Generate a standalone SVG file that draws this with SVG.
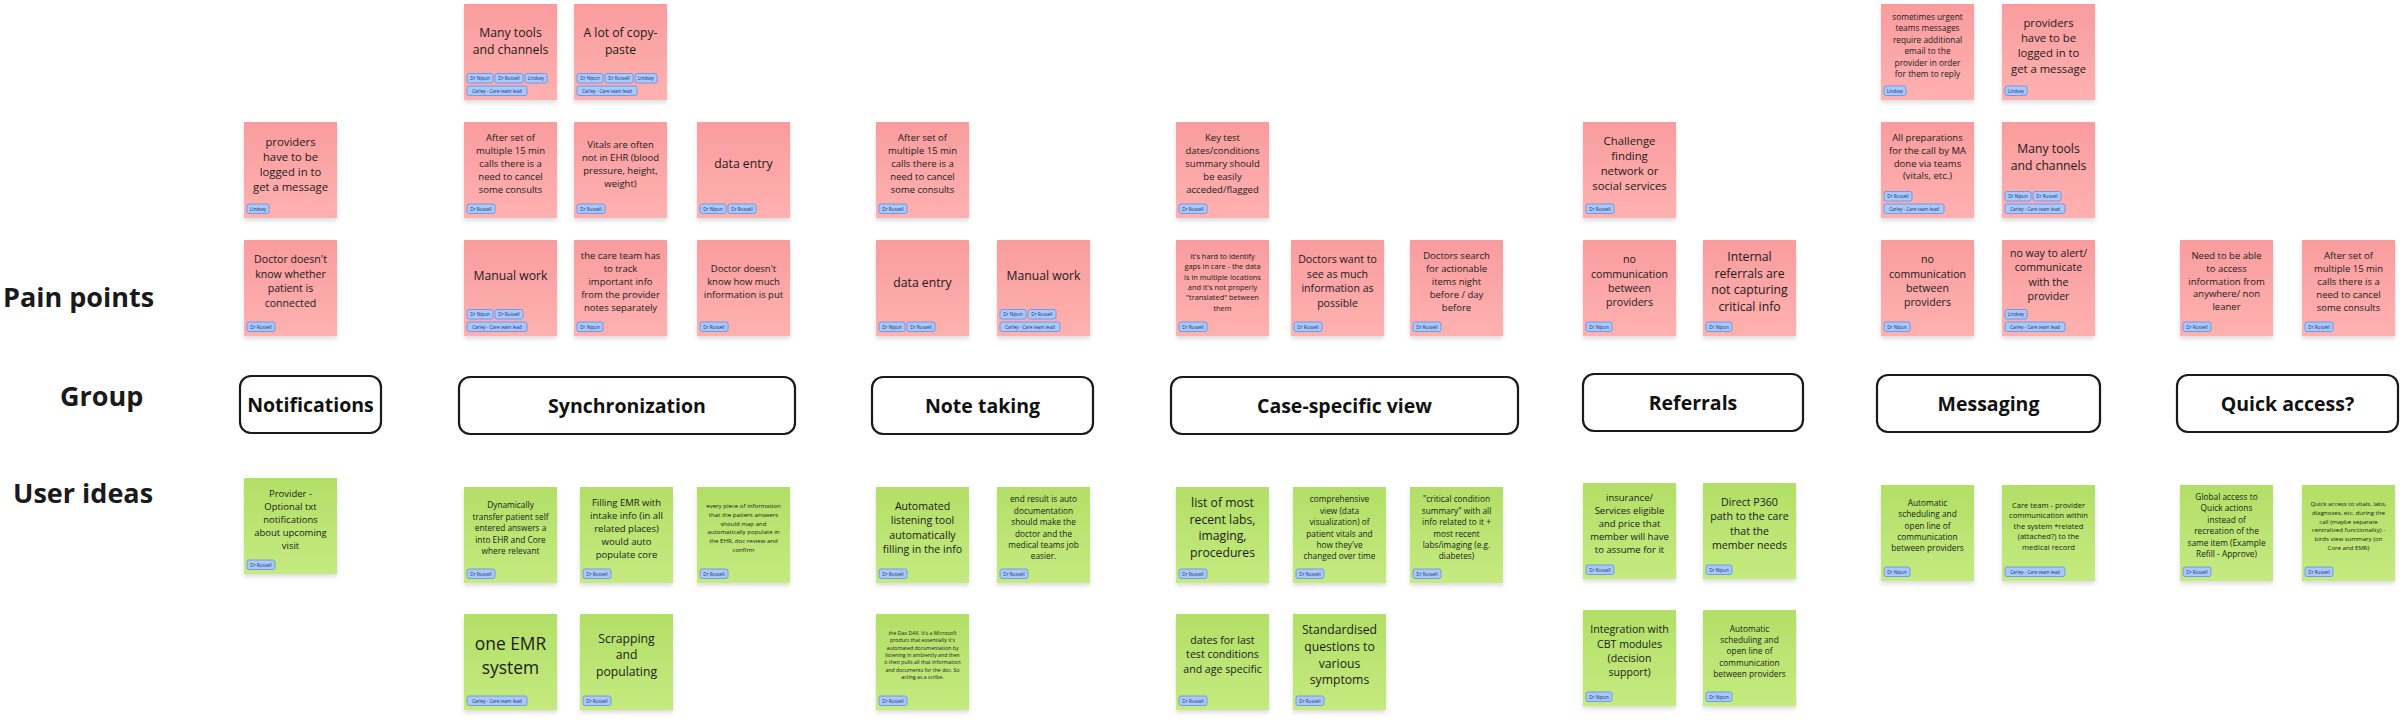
<svg xmlns="http://www.w3.org/2000/svg" xmlns:xlink="http://www.w3.org/1999/xlink" width="2400" height="726" viewBox="0 0 2400 726">
<defs>
<linearGradient id="gp" x1="0" y1="0" x2="0" y2="1"><stop offset="0" stop-color="#f99c9e"/><stop offset="1" stop-color="#feb1b0"/></linearGradient>
<linearGradient id="gg" x1="0" y1="0" x2="0" y2="1"><stop offset="0" stop-color="#b2df66"/><stop offset="1" stop-color="#c5ea80"/></linearGradient>
<filter id="sh" x="-10%" y="-10%" width="120%" height="130%"><feDropShadow dx="0" dy="3" stdDeviation="2" flood-color="#000" flood-opacity="0.13"/></filter>
<style>
.pk{fill:url(#gp);filter:url(#sh);}
.gr{fill:url(#gg);filter:url(#sh);}
.t{font-family:"Open Sans","Liberation Sans",sans-serif;fill:#1a1a1a;text-anchor:middle;}
.tg{fill:#a9c8fb;stroke:#5c8fe9;stroke-width:0.8;}
.tt{font-family:"Open Sans","Liberation Sans",sans-serif;font-size:4.6px;fill:#1f2f70;text-anchor:middle;}
.gb{fill:#fff;stroke:#1a1a1a;stroke-width:2.2;}
.gt{font-family:"Open Sans","Liberation Sans",sans-serif;font-weight:700;font-size:19.5px;fill:#111;text-anchor:middle;}
.lb{font-family:"Open Sans","Liberation Sans",sans-serif;font-weight:700;font-size:27px;fill:#1a1a1a;}
</style>
<g id="tagN"><rect class="tg" width="26" height="9.5" rx="2"/><text class="tt" x="13" y="6.6">Dr Nipun</text></g>
<g id="tagR"><rect class="tg" width="28" height="9.5" rx="2"/><text class="tt" x="14" y="6.6">Dr Russell</text></g>
<g id="tagL"><rect class="tg" width="22" height="9.5" rx="2"/><text class="tt" x="11" y="6.6">Lindsey</text></g>
<g id="tagC"><rect class="tg" width="60" height="9.5" rx="2"/><text class="tt" x="30" y="6.6">Carley - Care team lead</text></g>
</defs>
<rect width="2400" height="726" fill="#fff"/>

<g id="labels">
<text class="lb" x="3" y="307">Pain points</text>
<text class="lb" x="60" y="406">Group</text>
<text class="lb" x="13" y="503">User ideas</text>
</g>

<g id="groups">
<g id="g-notifications"><rect class="gb" x="240" y="376" width="141" height="57" rx="11"/><text class="gt" x="310.5" y="411.5">Notifications</text></g>
<g id="g-sync"><rect class="gb" x="459" y="377" width="336" height="57" rx="11"/><text class="gt" x="627" y="412.5">Synchronization</text></g>
<g id="g-note"><rect class="gb" x="872" y="377" width="221" height="57" rx="11"/><text class="gt" x="982.5" y="412.5">Note taking</text></g>
<g id="g-case"><rect class="gb" x="1171" y="377" width="347" height="57" rx="11"/><text class="gt" x="1344.5" y="412.5">Case-specific view</text></g>
<g id="g-ref"><rect class="gb" x="1583" y="374" width="220" height="57" rx="11"/><text class="gt" x="1693" y="409.5">Referrals</text></g>
<g id="g-msg"><rect class="gb" x="1877" y="375" width="223" height="57" rx="11"/><text class="gt" x="1988.5" y="410.5">Messaging</text></g>
<g id="g-quick"><rect class="gb" x="2177" y="375" width="221" height="57" rx="11"/><text class="gt" x="2287.5" y="410.5">Quick access?</text></g>
</g>

<g id="connectors"/>

<!-- Pain points: top row -->
<g id="p-sync-tools" transform="translate(464,4)"><rect class="pk" width="93" height="96"/>
<text class="t" font-size="12.2"><tspan x="46.5" y="33">Many tools</tspan><tspan x="46.5" y="50">and channels</tspan></text>
<use href="#tagN" x="3" y="69.5"/><use href="#tagR" x="31" y="69.5"/><use href="#tagL" x="61" y="69.5"/><use href="#tagC" x="3" y="82"/></g>
<g id="p-sync-copy" transform="translate(574,4)"><rect class="pk" width="93" height="96"/>
<text class="t" font-size="12.2"><tspan x="46.5" y="33">A lot of copy-</tspan><tspan x="46.5" y="50">paste</tspan></text>
<use href="#tagN" x="3" y="69.5"/><use href="#tagR" x="31" y="69.5"/><use href="#tagL" x="61" y="69.5"/><use href="#tagC" x="3" y="82"/></g>
<g id="p-msg-urgent" transform="translate(1881,4)"><rect class="pk" width="93" height="96"/>
<text class="t" font-size="8.3"><tspan x="46.5" y="16">sometimes urgent</tspan><tspan x="46.5" y="27.4">teams messages</tspan><tspan x="46.5" y="38.8">require additional</tspan><tspan x="46.5" y="50.2">email to the</tspan><tspan x="46.5" y="61.6">provider in order</tspan><tspan x="46.5" y="73">for them to reply</tspan></text>
<use href="#tagL" x="3" y="82"/></g>
<g id="p-msg-providers" transform="translate(2002,4)"><rect class="pk" width="93" height="96"/>
<text class="t" font-size="11.3"><tspan x="46.5" y="22.7">providers</tspan><tspan x="46.5" y="38">have to be</tspan><tspan x="46.5" y="53.3">logged in to</tspan><tspan x="46.5" y="68.6">get a message</tspan></text>
<use href="#tagL" x="3" y="82"/></g>

<!-- Pain points: middle row -->
<g id="p-notif-providers" transform="translate(244,122)"><rect class="pk" width="93" height="96"/>
<text class="t" font-size="11.3"><tspan x="46.5" y="23.5">providers</tspan><tspan x="46.5" y="38.8">have to be</tspan><tspan x="46.5" y="54.1">logged in to</tspan><tspan x="46.5" y="69.4">get a message</tspan></text>
<use href="#tagL" x="3" y="82"/></g>
<g id="p-sync-after" transform="translate(464,122)"><rect class="pk" width="93" height="96"/>
<text class="t" font-size="9.5"><tspan x="46.5" y="18.7">After set of</tspan><tspan x="46.5" y="31.7">multiple 15 min</tspan><tspan x="46.5" y="44.7">calls there is a</tspan><tspan x="46.5" y="57.7">need to cancel</tspan><tspan x="46.5" y="70.7">some consults</tspan></text>
<use href="#tagR" x="3" y="82"/></g>
<g id="p-sync-vitals" transform="translate(574,122)"><rect class="pk" width="93" height="96"/>
<text class="t" font-size="9.5"><tspan x="46.5" y="25.7">Vitals are often</tspan><tspan x="46.5" y="38.7">not in EHR (blood</tspan><tspan x="46.5" y="51.7">pressure, height,</tspan><tspan x="46.5" y="64.7">weight)</tspan></text>
<use href="#tagR" x="3" y="82"/></g>
<g id="p-sync-data" transform="translate(697,122)"><rect class="pk" width="93" height="96"/>
<text class="t" font-size="12.2"><tspan x="46.5" y="45.7">data entry</tspan></text>
<use href="#tagN" x="3" y="82"/><use href="#tagR" x="31" y="82"/></g>
<g id="p-note-after" transform="translate(876,122)"><rect class="pk" width="93" height="96"/>
<text class="t" font-size="9.5"><tspan x="46.5" y="18.7">After set of</tspan><tspan x="46.5" y="31.7">multiple 15 min</tspan><tspan x="46.5" y="44.7">calls there is a</tspan><tspan x="46.5" y="57.7">need to cancel</tspan><tspan x="46.5" y="70.7">some consults</tspan></text>
<use href="#tagR" x="3" y="82"/></g>
<g id="p-case-key" transform="translate(1176,122)"><rect class="pk" width="93" height="96"/>
<text class="t" font-size="9.5"><tspan x="46.5" y="18.7">Key test</tspan><tspan x="46.5" y="31.7">dates/conditions</tspan><tspan x="46.5" y="44.7">summary should</tspan><tspan x="46.5" y="57.7">be easily</tspan><tspan x="46.5" y="70.7">acceded/flagged</tspan></text>
<use href="#tagR" x="3" y="82"/></g>
<g id="p-ref-challenge" transform="translate(1583,122)"><rect class="pk" width="93" height="96"/>
<text class="t" font-size="11.3"><tspan x="46.5" y="22.5">Challenge</tspan><tspan x="46.5" y="37.8">finding</tspan><tspan x="46.5" y="53.1">network or</tspan><tspan x="46.5" y="68.4">social services</tspan></text>
<use href="#tagR" x="3" y="82"/></g>
<g id="p-msg-prep" transform="translate(1881,122)"><rect class="pk" width="93" height="96"/>
<text class="t" font-size="9.5"><tspan x="46.5" y="19">All preparations</tspan><tspan x="46.5" y="31.8">for the call by MA</tspan><tspan x="46.5" y="44.6">done via teams</tspan><tspan x="46.5" y="57.4">(vitals, etc.)</tspan></text>
<use href="#tagR" x="3" y="69.5"/><use href="#tagC" x="3" y="82"/></g>
<g id="p-msg-tools" transform="translate(2002,122)"><rect class="pk" width="93" height="96"/>
<text class="t" font-size="12.2"><tspan x="46.5" y="31.3">Many tools</tspan><tspan x="46.5" y="48">and channels</tspan></text>
<use href="#tagN" x="3" y="69.5"/><use href="#tagR" x="31" y="69.5"/><use href="#tagC" x="3" y="82"/></g>

<!-- Pain points: bottom row -->
<g id="p-notif-doctor" transform="translate(244,240)"><rect class="pk" width="93" height="96"/>
<text class="t" font-size="10.6"><tspan x="46.5" y="23">Doctor doesn't</tspan><tspan x="46.5" y="37.5">know whether</tspan><tspan x="46.5" y="52">patient is</tspan><tspan x="46.5" y="66.5">connected</tspan></text>
<use href="#tagR" x="3" y="82"/></g>
<g id="p-sync-manual" transform="translate(464,240)"><rect class="pk" width="93" height="96"/>
<text class="t" font-size="12.2"><tspan x="46.5" y="40">Manual work</tspan></text>
<use href="#tagN" x="3" y="69.5"/><use href="#tagR" x="31" y="69.5"/><use href="#tagC" x="3" y="82"/></g>
<g id="p-sync-care" transform="translate(574,240)"><rect class="pk" width="93" height="96"/>
<text class="t" font-size="9.5"><tspan x="46.5" y="19">the care team has</tspan><tspan x="46.5" y="31.9">to track</tspan><tspan x="46.5" y="44.8">important info</tspan><tspan x="46.5" y="57.7">from the provider</tspan><tspan x="46.5" y="70.6">notes separately</tspan></text>
<use href="#tagN" x="3" y="82"/></g>
<g id="p-sync-doctor" transform="translate(697,240)"><rect class="pk" width="93" height="96"/>
<text class="t" font-size="9.5"><tspan x="46.5" y="31.7">Doctor doesn't</tspan><tspan x="46.5" y="44.6">know how much</tspan><tspan x="46.5" y="57.5">information is put</tspan></text>
<use href="#tagR" x="3" y="82"/></g>
<g id="p-note-data" transform="translate(876,240)"><rect class="pk" width="93" height="96"/>
<text class="t" font-size="12.2"><tspan x="46.5" y="46.7">data entry</tspan></text>
<use href="#tagN" x="3" y="82"/><use href="#tagR" x="31" y="82"/></g>
<g id="p-note-manual" transform="translate(997,240)"><rect class="pk" width="93" height="96"/>
<text class="t" font-size="12.2"><tspan x="46.5" y="40">Manual work</tspan></text>
<use href="#tagN" x="3" y="69.5"/><use href="#tagR" x="31" y="69.5"/><use href="#tagC" x="3" y="82"/></g>
<g id="p-case-hard" transform="translate(1176,240)"><rect class="pk" width="93" height="96"/>
<text class="t" font-size="7.4"><tspan x="46.5" y="19">it's hard to identify</tspan><tspan x="46.5" y="29.3">gaps in care - the data</tspan><tspan x="46.5" y="39.6">is in multiple locations</tspan><tspan x="46.5" y="49.9">and it's not properly</tspan><tspan x="46.5" y="60.2">"translated" between</tspan><tspan x="46.5" y="70.5">them</tspan></text>
<use href="#tagR" x="3" y="82"/></g>
<g id="p-case-want" transform="translate(1291,240)"><rect class="pk" width="93" height="96"/>
<text class="t" font-size="10.6"><tspan x="46.5" y="23.3">Doctors want to</tspan><tspan x="46.5" y="37.8">see as much</tspan><tspan x="46.5" y="52.3">information as</tspan><tspan x="46.5" y="66.8">possible</tspan></text>
<use href="#tagR" x="3" y="82"/></g>
<g id="p-case-search" transform="translate(1410,240)"><rect class="pk" width="93" height="96"/>
<text class="t" font-size="9.5"><tspan x="46.5" y="19.3">Doctors search</tspan><tspan x="46.5" y="32.2">for actionable</tspan><tspan x="46.5" y="45.1">items night</tspan><tspan x="46.5" y="58">before / day</tspan><tspan x="46.5" y="70.9">before</tspan></text>
<use href="#tagR" x="3" y="82"/></g>
<g id="p-ref-nocomm" transform="translate(1583,240)"><rect class="pk" width="93" height="96"/>
<text class="t" font-size="10.6"><tspan x="46.5" y="23.3">no</tspan><tspan x="46.5" y="37.6">communication</tspan><tspan x="46.5" y="51.9">between</tspan><tspan x="46.5" y="66.2">providers</tspan></text>
<use href="#tagN" x="3" y="82"/></g>
<g id="p-ref-internal" transform="translate(1703,240)"><rect class="pk" width="93" height="96"/>
<text class="t" font-size="12.2"><tspan x="46.5" y="20.7">Internal</tspan><tspan x="46.5" y="37.5">referrals are</tspan><tspan x="46.5" y="54.3">not capturing</tspan><tspan x="46.5" y="71.1">critical info</tspan></text>
<use href="#tagN" x="3" y="82"/></g>
<g id="p-msg-nocomm" transform="translate(1881,240)"><rect class="pk" width="93" height="96"/>
<text class="t" font-size="10.6"><tspan x="46.5" y="23.3">no</tspan><tspan x="46.5" y="37.6">communication</tspan><tspan x="46.5" y="51.9">between</tspan><tspan x="46.5" y="66.2">providers</tspan></text>
<use href="#tagN" x="3" y="82"/></g>
<g id="p-msg-noway" transform="translate(2002,240)"><rect class="pk" width="93" height="96"/>
<text class="t" font-size="10.6"><tspan x="46.5" y="16.7">no way to alert/</tspan><tspan x="46.5" y="31.1">communicate</tspan><tspan x="46.5" y="45.5">with the</tspan><tspan x="46.5" y="59.9">provider</tspan></text>
<use href="#tagL" x="3" y="69.5"/><use href="#tagC" x="3" y="82"/></g>
<g id="p-quick-need" transform="translate(2180,240)"><rect class="pk" width="93" height="96"/>
<text class="t" font-size="9.5"><tspan x="46.5" y="19">Need to be able</tspan><tspan x="46.5" y="31.8">to access</tspan><tspan x="46.5" y="44.6">information from</tspan><tspan x="46.5" y="57.4">anywhere/ non</tspan><tspan x="46.5" y="70.2">leaner</tspan></text>
<use href="#tagR" x="3" y="82"/></g>
<g id="p-quick-after" transform="translate(2302,240)"><rect class="pk" width="93" height="96"/>
<text class="t" font-size="9.5"><tspan x="46.5" y="19">After set of</tspan><tspan x="46.5" y="31.9">multiple 15 min</tspan><tspan x="46.5" y="44.8">calls there is a</tspan><tspan x="46.5" y="57.7">need to cancel</tspan><tspan x="46.5" y="70.6">some consults</tspan></text>
<use href="#tagR" x="3" y="82"/></g>

<!-- User ideas -->
<g id="i-notif-provider" transform="translate(244,478)"><rect class="gr" width="93" height="96"/>
<text class="t" font-size="9.5"><tspan x="46.5" y="19.3">Provider -</tspan><tspan x="46.5" y="32.3">Optional txt</tspan><tspan x="46.5" y="45.3">notifications</tspan><tspan x="46.5" y="58.3">about upcoming</tspan><tspan x="46.5" y="71.3">visit</tspan></text>
<use href="#tagR" x="3" y="82"/></g>
<g id="i-sync-dyn" transform="translate(464,487)"><rect class="gr" width="93" height="96"/>
<text class="t" font-size="8.3"><tspan x="46.5" y="21.3">Dynamically</tspan><tspan x="46.5" y="32.7">transfer patient self</tspan><tspan x="46.5" y="44.1">entered  answers a</tspan><tspan x="46.5" y="55.5">into EHR and Core</tspan><tspan x="46.5" y="66.9">where relevant</tspan></text>
<use href="#tagR" x="3" y="82"/></g>
<g id="i-sync-fill" transform="translate(580,487)"><rect class="gr" width="93" height="96"/>
<text class="t" font-size="9.5"><tspan x="46.5" y="19">Filling EMR with</tspan><tspan x="46.5" y="32">intake info (in all</tspan><tspan x="46.5" y="45">related places)</tspan><tspan x="46.5" y="57.8">would auto</tspan><tspan x="46.5" y="70.6">populate core</tspan></text>
<use href="#tagR" x="3" y="82"/></g>
<g id="i-sync-every" transform="translate(697,487)"><rect class="gr" width="93" height="96"/>
<text class="t" font-size="6.1"><tspan x="46.5" y="21.3">every piece of information</tspan><tspan x="46.5" y="30">that the patient answers</tspan><tspan x="46.5" y="38.7">should map and</tspan><tspan x="46.5" y="47.4">automatically populate in</tspan><tspan x="46.5" y="56.1">the EHR, doc review and</tspan><tspan x="46.5" y="64.8">confirm</tspan></text>
<use href="#tagR" x="3" y="82"/></g>
<g id="i-sync-one" transform="translate(464,614)"><rect class="gr" width="93" height="96"/>
<text class="t" font-size="17.4"><tspan x="46.5" y="36">one EMR</tspan><tspan x="46.5" y="60">system</tspan></text>
<use href="#tagC" x="3" y="82"/></g>
<g id="i-sync-scrap" transform="translate(580,614)"><rect class="gr" width="93" height="96"/>
<text class="t" font-size="12.2"><tspan x="46.5" y="28.7">Scrapping</tspan><tspan x="46.5" y="45.4">and</tspan><tspan x="46.5" y="62.1">populating</tspan></text>
<use href="#tagR" x="3" y="82"/></g>
<g id="i-note-auto" transform="translate(876,487)"><rect class="gr" width="93" height="96"/>
<text class="t" font-size="10.6"><tspan x="46.5" y="23">Automated</tspan><tspan x="46.5" y="37.3">listening tool</tspan><tspan x="46.5" y="51.6">automatically</tspan><tspan x="46.5" y="65.9">filling in the info</tspan></text>
<use href="#tagR" x="3" y="82"/></g>
<g id="i-note-end" transform="translate(997,487)"><rect class="gr" width="93" height="96"/>
<text class="t" font-size="8.3"><tspan x="46.5" y="15.3">end result is auto</tspan><tspan x="46.5" y="26.7">documentation</tspan><tspan x="46.5" y="38.1">should make the</tspan><tspan x="46.5" y="49.5">doctor and the</tspan><tspan x="46.5" y="60.9">medical teams job</tspan><tspan x="46.5" y="72.3">easier.</tspan></text>
<use href="#tagR" x="3" y="82"/></g>
<g id="i-note-dax" transform="translate(876,614)"><rect class="gr" width="93" height="96"/>
<text class="t" font-size="5.2"><tspan x="46.5" y="21">the Dax DAX. It's a Microsoft</tspan><tspan x="46.5" y="28.3">product that essentially it's</tspan><tspan x="46.5" y="35.6">automated documentation by</tspan><tspan x="46.5" y="42.9">listening in ambiently  and then</tspan><tspan x="46.5" y="50.2">it then pulls all that information</tspan><tspan x="46.5" y="57.5">and documents for the doc. So</tspan><tspan x="46.5" y="64.8">acting as a scribe.</tspan></text>
<use href="#tagR" x="3" y="82"/></g>
<g id="i-case-list" transform="translate(1176,487)"><rect class="gr" width="93" height="96"/>
<text class="t" font-size="12.2"><tspan x="46.5" y="19.7">list of most</tspan><tspan x="46.5" y="36.5">recent labs,</tspan><tspan x="46.5" y="53.3">imaging,</tspan><tspan x="46.5" y="70.1">procedures</tspan></text>
<use href="#tagR" x="3" y="82"/></g>
<g id="i-case-comp" transform="translate(1293,487)"><rect class="gr" width="93" height="96"/>
<text class="t" font-size="8.3"><tspan x="46.5" y="15.3">comprehensive</tspan><tspan x="46.5" y="26.7">view (data</tspan><tspan x="46.5" y="38.1">visualization) of</tspan><tspan x="46.5" y="49.5">patient vitals and</tspan><tspan x="46.5" y="60.9">how they've</tspan><tspan x="46.5" y="72.3">changed over time</tspan></text>
<use href="#tagR" x="3" y="82"/></g>
<g id="i-case-crit" transform="translate(1410,487)"><rect class="gr" width="93" height="96"/>
<text class="t" font-size="8.3"><tspan x="46.5" y="15.3">"critical condition</tspan><tspan x="46.5" y="26.7">summary" with all</tspan><tspan x="46.5" y="38.1">info related to it +</tspan><tspan x="46.5" y="49.5">most recent</tspan><tspan x="46.5" y="60.9">labs/imaging (e.g.</tspan><tspan x="46.5" y="72.3">diabetes)</tspan></text>
<use href="#tagR" x="3" y="82"/></g>
<g id="i-case-dates" transform="translate(1176,614)"><rect class="gr" width="93" height="96"/>
<text class="t" font-size="10.6"><tspan x="46.5" y="30">dates for last</tspan><tspan x="46.5" y="44.4">test conditions</tspan><tspan x="46.5" y="58.8">and age specific</tspan></text>
<use href="#tagR" x="3" y="82"/></g>
<g id="i-case-std" transform="translate(1293,614)"><rect class="gr" width="93" height="96"/>
<text class="t" font-size="12.2"><tspan x="46.5" y="20">Standardised</tspan><tspan x="46.5" y="36.8">questions to</tspan><tspan x="46.5" y="53.6">various</tspan><tspan x="46.5" y="70.4">symptoms</tspan></text>
<use href="#tagR" x="3" y="82"/></g>
<g id="i-ref-ins" transform="translate(1583,483)"><rect class="gr" width="93" height="96"/>
<text class="t" font-size="9.5"><tspan x="46.5" y="18">insurance/</tspan><tspan x="46.5" y="31">Services eligible</tspan><tspan x="46.5" y="44">and price that</tspan><tspan x="46.5" y="57">member will have</tspan><tspan x="46.5" y="70">to assume for it</tspan></text>
<use href="#tagR" x="3" y="82"/></g>
<g id="i-ref-direct" transform="translate(1703,483)"><rect class="gr" width="93" height="96"/>
<text class="t" font-size="10.6"><tspan x="46.5" y="23">Direct P360</tspan><tspan x="46.5" y="37.4">path to the care</tspan><tspan x="46.5" y="51.8">that the</tspan><tspan x="46.5" y="66.2">member needs</tspan></text>
<use href="#tagN" x="3" y="82"/></g>
<g id="i-ref-integ" transform="translate(1583,610)"><rect class="gr" width="93" height="96"/>
<text class="t" font-size="10.6"><tspan x="46.5" y="23.3">Integration with</tspan><tspan x="46.5" y="37.5">CBT modules</tspan><tspan x="46.5" y="51.7">(decision</tspan><tspan x="46.5" y="65.9">support)</tspan></text>
<use href="#tagN" x="3" y="82"/></g>
<g id="i-ref-auto" transform="translate(1703,610)"><rect class="gr" width="93" height="96"/>
<text class="t" font-size="8.3"><tspan x="46.5" y="21.7">Automatic</tspan><tspan x="46.5" y="33">scheduling and</tspan><tspan x="46.5" y="44.3">open line of</tspan><tspan x="46.5" y="55.6">communication</tspan><tspan x="46.5" y="66.9">between providers</tspan></text>
<use href="#tagN" x="3" y="82"/></g>
<g id="i-msg-auto" transform="translate(1881,485)"><rect class="gr" width="93" height="96"/>
<text class="t" font-size="8.3"><tspan x="46.5" y="21">Automatic</tspan><tspan x="46.5" y="32.3">scheduling and</tspan><tspan x="46.5" y="43.6">open line of</tspan><tspan x="46.5" y="54.9">communication</tspan><tspan x="46.5" y="66.2">between providers</tspan></text>
<use href="#tagN" x="3" y="82"/></g>
<g id="i-msg-care" transform="translate(2002,485)"><rect class="gr" width="93" height="96"/>
<text class="t" font-size="7.6"><tspan x="46.5" y="22.7">Care team - provider</tspan><tspan x="46.5" y="33.2">communication within</tspan><tspan x="46.5" y="43.7">the system *related</tspan><tspan x="46.5" y="54.2">(attached?) to the</tspan><tspan x="46.5" y="64.7">medical record</tspan></text>
<use href="#tagC" x="3" y="82"/></g>
<g id="i-quick-global" transform="translate(2180,485)"><rect class="gr" width="93" height="96"/>
<text class="t" font-size="8.3"><tspan x="46.5" y="15">Global access to</tspan><tspan x="46.5" y="26.4">Quick actions</tspan><tspan x="46.5" y="37.8">instead of</tspan><tspan x="46.5" y="49.2">recreation  of the</tspan><tspan x="46.5" y="60.6">same item (Example</tspan><tspan x="46.5" y="72">Refill - Approve)</tspan></text>
<use href="#tagR" x="3" y="82"/></g>
<g id="i-quick-access" transform="translate(2302,485)"><rect class="gr" width="93" height="96"/>
<text class="t" font-size="6.1"><tspan x="46.5" y="21">Quick access to vitals, labs,</tspan><tspan x="46.5" y="29.8">diagnoses, etc, during the</tspan><tspan x="46.5" y="38.6">call (maybe separate</tspan><tspan x="46.5" y="47.4">centralized functionality) -</tspan><tspan x="46.5" y="56.2">birds view summary (on</tspan><tspan x="46.5" y="65">Core and EMR)</tspan></text>
<use href="#tagR" x="3" y="82"/></g>
</svg>
